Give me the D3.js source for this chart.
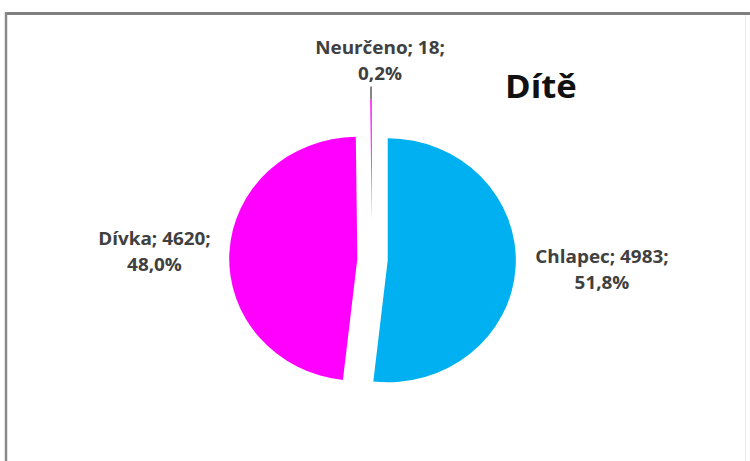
<!DOCTYPE html>
<html>
<head>
<meta charset="utf-8">
<script src="https://cdn.jsdelivr.net/npm/d3@7"></script>
<style>
  html, body { margin: 0; padding: 0; background: #fff; }
  svg { display: block; }
  text { font-family: "Open Sans", "DejaVu Sans", sans-serif; font-weight: 700; }
</style>
</head>
<body>
<svg id="chart" width="750" height="461"></svg>
<script>
// Dítě – rozdělení podle pohlaví
const categories = ["Chlapec", "Dívka", "Neurčeno"];
const counts = [4983, 4620, 18];
const percentLabels = ["51,8%", "48,0%", "0,2%"];
const sliceColors = ["#00b0f0", "#ff00ff", "#ff00ff"];
const explode = [15, 14, 38];          // slice pull-out distance, px
const chartTitle = "Dítě";

const W = 750, H = 461;
const svg = d3.select("#chart");

// chart frame
svg.append("line").attr("x1", 6).attr("x2", W).attr("y1", 13.5).attr("y2", 13.5)
  .attr("stroke", "#808080").attr("stroke-width", 3);
svg.append("line").attr("x1", 6).attr("x2", 6).attr("y1", 12).attr("y2", H)
  .attr("stroke", "#8a8a8a").attr("stroke-width", 2.5);
svg.append("line").attr("x1", 745.5).attr("x2", 745.5).attr("y1", 15).attr("y2", H)
  .attr("stroke", "#ececec").attr("stroke-width", 1);

// the plot is slightly wider than tall
const sx = 1.05;
const g = svg.append("g").attr("transform", `scale(${sx},1)`);

const cx = 372 / sx, cy = 259.5, r = 122;

const pie = d3.pie().sort(null).startAngle(0).endAngle(2 * Math.PI);
const arcs = pie(counts);
const arc = d3.arc().innerRadius(0).outerRadius(r);

const pieG = g.append("g").attr("transform", `translate(${cx},${cy})`);
pieG.selectAll("path.slice")
  .data(arcs)
  .join("path")
  .attr("class", "slice")
  .attr("fill", (d, i) => sliceColors[i])
  .attr("transform", (d, i) => {
    const a = (d.startAngle + d.endAngle) / 2;
    return `translate(${explode[i] * Math.sin(a)},${-explode[i] * Math.cos(a)})`;
  })
  .attr("d", arc);

// leader line for the tiny slice
{
  const d = arcs[2];
  const a = (d.startAngle + d.endAngle) / 2;
  const rr = r + explode[2];
  const x0 = rr * Math.sin(a), y0 = -rr * Math.cos(a);
  pieG.append("line")
    .attr("x1", x0).attr("x2", x0)
    .attr("y1", y0).attr("y2", y0 - 13)
    .attr("stroke", "#404040").attr("stroke-width", 1.2);
}

// data labels: "Kategorie; počet;" / "procento"
const labelPos = [
  { x: 602 / sx, y: 263 },
  { x: 154.5 / sx, y: 245 },
  { x: 380 / sx, y: 54 }
];
const lineGap = 26;

categories.forEach((c, i) => {
  const t = g.append("text")
    .attr("text-anchor", "middle")
    .attr("fill", "#404040")
    .attr("font-size", 18);
  t.append("tspan").attr("x", labelPos[i].x).attr("y", labelPos[i].y)
    .text(`${c}; ${counts[i]};`);
  t.append("tspan").attr("x", labelPos[i].x).attr("y", labelPos[i].y + lineGap)
    .text(percentLabels[i]);
});

// title
g.append("text")
  .attr("x", 505 / sx).attr("y", 98)
  .attr("fill", "#111")
  .attr("font-size", 33)
  .text(chartTitle);
</script>
</body>
</html>
